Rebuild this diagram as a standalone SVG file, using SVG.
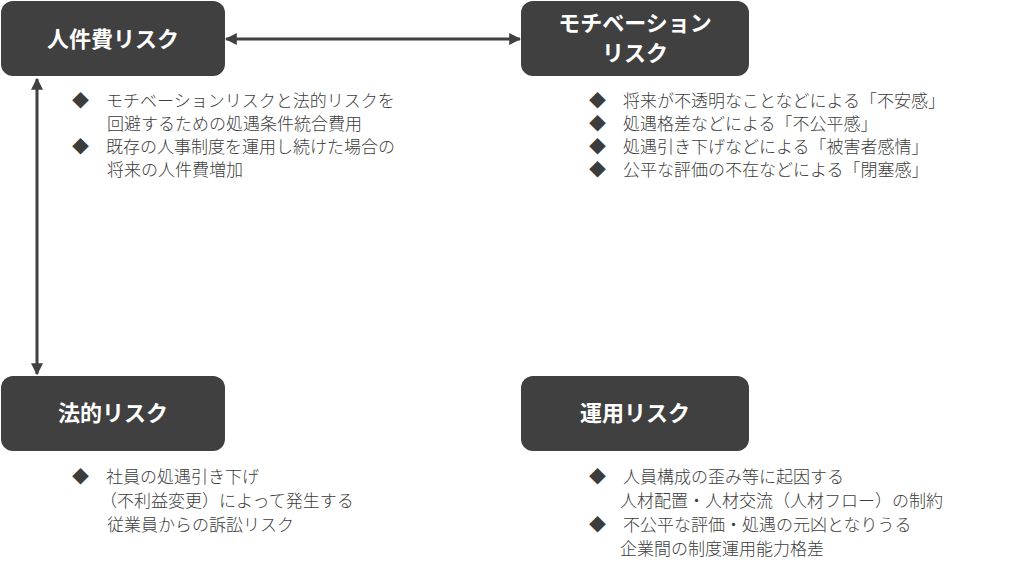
<svg xmlns="http://www.w3.org/2000/svg" width="1024" height="571" viewBox="0 0 1024 571">
<style>
.box{fill:#404040}
.t{font-family:"Noto Sans CJK JP",sans-serif;font-weight:bold;font-size:22px;fill:#fff;text-anchor:middle}
.b{font-family:"Noto Sans CJK JP",sans-serif;font-weight:300;font-size:17px;fill:#3c3c3c}
.c{stroke:#404040;stroke-width:3;fill:none}
</style>
<defs>
<marker id="ah" viewBox="0 0 10 10" refX="9" refY="5" markerWidth="4" markerHeight="4" orient="auto-start-reverse"><path d="M0,0L10,5L0,10z" fill="#404040"/></marker>
</defs>
<rect width="1024" height="571" fill="#fff"/>
<g id="connectors">
<line class="c" x1="226" y1="39" x2="520" y2="39" marker-start="url(#ah)" marker-end="url(#ah)"/>
<line class="c" x1="37" y1="79" x2="37" y2="374" marker-start="url(#ah)" marker-end="url(#ah)"/>
</g>
<g id="n1">
<rect class="box" x="1" y="1" width="224" height="75" rx="12"/>
<text class="t" x="113" y="47">人件費リスク</text>
<text class="b" x="72" y="107">◆　モチベーションリスクと法的リスクを</text>
<text class="b" x="107" y="130">回避するための処遇条件統合費用</text>
<text class="b" x="72" y="153">◆　既存の人事制度を運用し続けた場合の</text>
<text class="b" x="107" y="176">将来の人件費増加</text>
</g>
<g id="n2">
<rect class="box" x="521" y="1" width="228" height="75" rx="12"/>
<text class="t" x="635" y="31">モチベーション</text>
<text class="t" x="635" y="61">リスク</text>
<text class="b" x="589" y="107">◆　将来が不透明なことなどによる「不安感」</text>
<text class="b" x="589" y="130">◆　処遇格差などによる「不公平感」</text>
<text class="b" x="589" y="153">◆　処遇引き下げなどによる「被害者感情」</text>
<text class="b" x="589" y="176">◆　公平な評価の不在などによる「閉塞感」</text>
</g>
<g id="n3">
<rect class="box" x="1" y="376" width="224" height="75" rx="12"/>
<text class="t" x="113" y="421">法的リスク</text>
<text class="b" x="72" y="483">◆　社員の処遇引き下げ</text>
<text class="b" x="100" y="507">（不利益変更）によって発生する</text>
<text class="b" x="107" y="531">従業員からの訴訟リスク</text>
</g>
<g id="n4">
<rect class="box" x="521" y="376" width="228" height="75" rx="12"/>
<text class="t" x="635" y="421">運用リスク</text>
<text class="b" x="589" y="483">◆　人員構成の歪み等に起因する</text>
<text class="b" x="620" y="507">人材配置・人材交流（人材フロー）の制約</text>
<text class="b" x="589" y="531">◆　不公平な評価・処遇の元凶となりうる</text>
<text class="b" x="620" y="555">企業間の制度運用能力格差</text>
</g>
</svg>
